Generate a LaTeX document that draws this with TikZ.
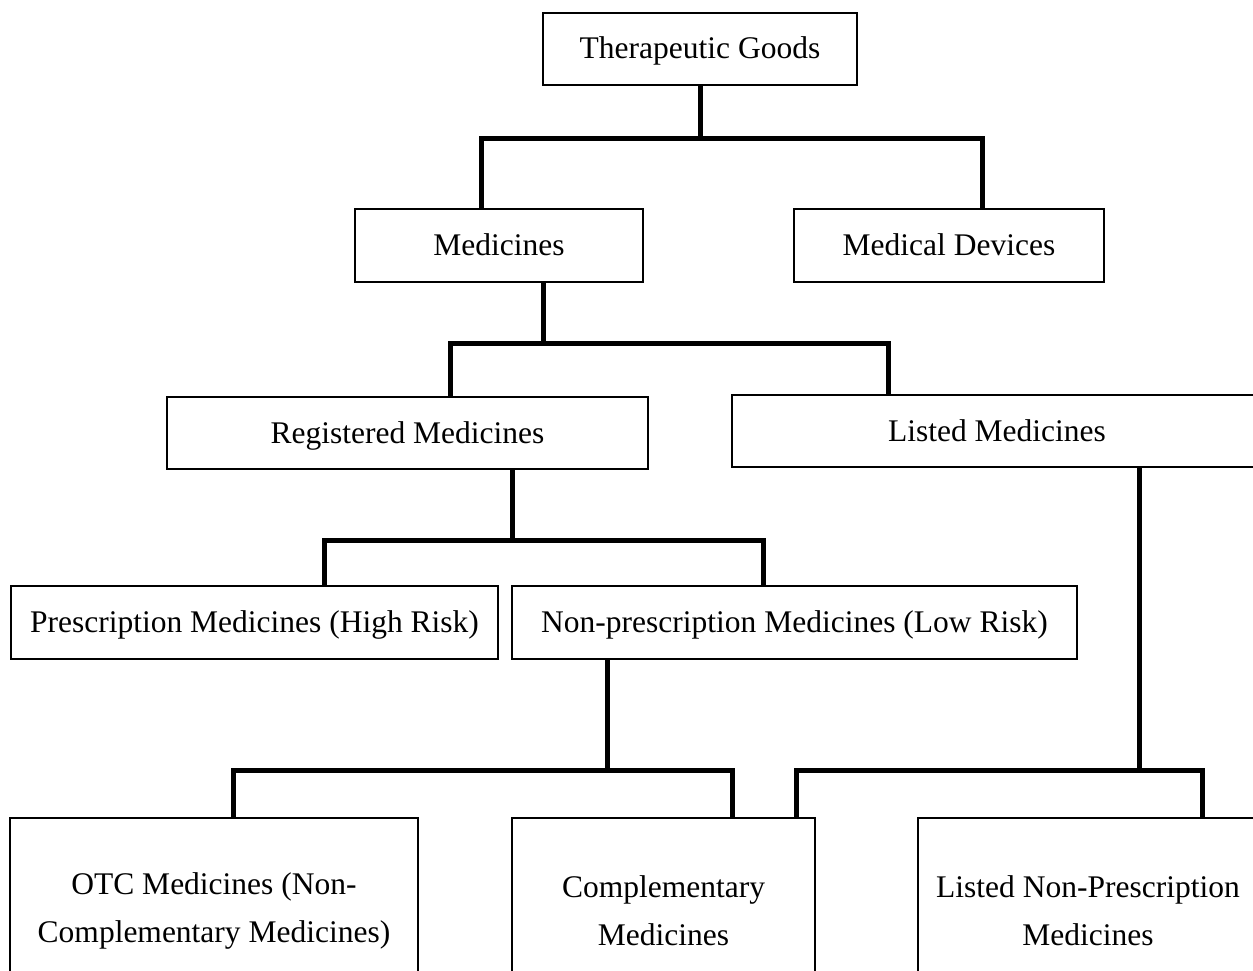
\documentclass[tikz,border=0pt]{standalone}
\usepackage{fontspec}
\setmainfont{Liberation Serif}
\begin{document}
\begin{tikzpicture}[x=1pt,y=-1pt,
  box/.style={draw=black,line width=1.4pt,inner sep=0pt,
    font=\fontsize{31.5}{36}\selectfont,align=center,
    text height=25pt,text depth=5pt},
  tallbox/.style={draw=black,line width=1.4pt,inner sep=0pt,
    font=\fontsize{31.5}{48}\selectfont,align=center},
  conn/.style={line width=5pt,line join=miter}]
\useasboundingbox (0,0) rectangle (1253,971);
\clip (0,0) rectangle (1253,971);
\fill[white] (0,0) rectangle (1253,971);

% boxes
\node[box,minimum width=314pt,minimum height=72pt] (tg) at (700,49) {Therapeutic Goods};
\node[box,minimum width=288pt,minimum height=73pt] (med) at (499,245.5) {Medicines};
\node[box,minimum width=310pt,minimum height=73pt] (md) at (949,245.5) {Medical Devices};
\node[box,minimum width=481pt,minimum height=72pt] (reg) at (407.5,433) {Registered Medicines};
\node[box,minimum width=530pt,minimum height=72pt] (lst) at (997,431) {Listed Medicines};
\node[box,minimum width=487pt,minimum height=73pt] (rx) at (254.5,622.5) {Prescription Medicines (High Risk)};
\node[box,minimum width=565pt,minimum height=73pt] (np) at (794.5,622.5) {Non-prescription Medicines (Low Risk)};
\node[tallbox,minimum width=408pt,minimum height=185pt] (otc) at (214,910.5) {OTC Medicines (Non-\\Complementary Medicines)};
\node[tallbox,minimum width=303pt,minimum height=185pt] (comp) at (663.5,910.5) {Complementary\\Medicines};
\node[tallbox,minimum width=340pt,minimum height=185pt] (lnp) at (1088,910.5) {Listed Non-Prescription\\Medicines};

% junction points
\coordinate (j1) at (700,139);
\coordinate (j2) at (543,343);
\coordinate (j3) at (512,540);
\coordinate (j4) at (607,770);
\coordinate (j5) at (1139,770);

% connectors
\draw[conn] (tg.south) -- (j1);
\draw[conn] ([xshift=-18pt]med.north) |- (j1) -| ([xshift=33pt]md.north);

\draw[conn] ([xshift=44pt]med.south) -- (j2);
\draw[conn] ([xshift=42.5pt]reg.north) |- (j2) -| ([xshift=-109pt]lst.north);

\draw[conn] ([xshift=104.5pt]reg.south) -- (j3);
\draw[conn] ([xshift=69.5pt]rx.north) |- (j3) -| ([xshift=-31.5pt]np.north);

\draw[conn] ([xshift=-187.5pt]np.south) -- (j4);
\draw[conn] ([xshift=19pt]otc.north) |- (j4) -| ([xshift=68.5pt]comp.north);

\draw[conn] ([xshift=142pt]lst.south) -- (j5);
\draw[conn] ([xshift=132.5pt]comp.north) |- (j5) -| ([xshift=114pt]lnp.north);
\end{tikzpicture}
\end{document}
